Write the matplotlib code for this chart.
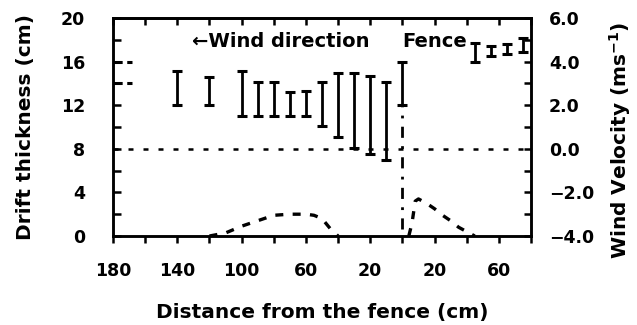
import matplotlib
matplotlib.use("Agg")
import matplotlib.pyplot as plt
import numpy as np

plt.rcParams['font.family'] = ['DejaVu Sans']
plt.rcParams['font.weight'] = 'bold'
plt.rcParams['mathtext.default'] = 'regular'

# Drift thickness ranges (cm); negative distance = windward side of the fence
x_windward = [-140, -120, -100, -90, -80, -70, -60, -50, -40, -30, -20, -10, 0]
drift_low_w = [12, 12, 11, 11, 11, 11, 11, 10.1, 9.1, 8.1, 7.5, 7.0, 12]
drift_high_w = [15.1, 14.6, 15.1, 14.1, 14.1, 13.2, 13.3, 14.1, 15.0, 15.0, 14.7, 14.1, 16]

x_leeward = [45, 55, 65, 75]
drift_low_l = [16.0, 16.5, 16.7, 16.9]
drift_high_l = [17.7, 17.4, 17.6, 18.2]

# Short marks on the far-left edge
edge_marks = [16, 14]

# Wind velocity profiles (m/s)
vel_x_w = [-120, -110, -100, -90, -80, -70, -60, -55, -50, -45, -40]
vel_w = [-4.0, -3.86, -3.55, -3.3, -3.05, -3.0, -3.0, -3.05, -3.2, -3.65, -4.0]
vel_x_l = [4, 6, 8, 10, 15, 20, 25, 30, 35, 40, 45]
vel_l = [-4.0, -3.4, -2.4, -2.3, -2.5, -2.75, -3.05, -3.3, -3.6, -3.8, -4.0]

x_ticks = [-180, -140, -100, -60, -20, 20, 60]
x_ticklabels = ['180', '140', '100', '60', '20', '20', '60']
y_ticks = [0, 4, 8, 12, 16, 20]
v_ticks = [-4.0, -2.0, 0.0, 2.0, 4.0, 6.0]

fig = plt.figure(figsize=(6.37, 3.25), dpi=100)
ax = fig.add_axes([113/637, 1-236/325, (531-113)/637, (236-18)/325])
ax.set_xlim(-180, 80)
ax.set_ylim(0, 20)

lw = 2.0
def draw_bars(xs, lo, hi):
    lo = np.array(lo); hi = np.array(hi)
    ax.errorbar(xs, lo, yerr=[np.zeros_like(lo), hi - lo], fmt='none',
                ecolor='black', elinewidth=lw, capsize=3.8, capthick=2.2)

draw_bars(x_windward, drift_low_w, drift_high_w)
draw_bars(x_leeward, drift_low_l, drift_high_l)

ax.hlines(edge_marks, -180, -168, colors='black', linewidth=2.2,
          linestyles=(0, (3, 1.5)))

# zero-velocity reference line
ax.axhline(8, color='black', linewidth=1.8, linestyle=(0, (2.0, 4.0)))
# fence position
ax.vlines(0, 0.6, 12, colors='black', linewidth=2.0,
          linestyles=(0, (4, 3, 1.0, 3)))

ax2 = ax.twinx()
ax2.set_ylim(-4, 6)
ax2.plot(vel_x_w, vel_w, color='black', linewidth=2.4, linestyle=(0, (2.4, 2.8)))
ax2.plot(vel_x_l, vel_l, color='black', linewidth=2.4, linestyle=(0, (2.4, 2.8)))

for a in (ax, ax2):
    for s in a.spines.values():
        s.set_linewidth(1.8)

ax.set_xticks(x_ticks)
ax.set_xticklabels(x_ticklabels)
ax.set_xticks(np.arange(-180, 81, 20), minor=True)
ax.tick_params(axis='x', which='both', direction='out', length=5, width=1.8,
               labelsize=12.5, pad=14)
ax.set_yticks(y_ticks)
ax.set_yticks(np.arange(0, 21, 2), minor=True)
ax.tick_params(axis='y', which='both', direction='in', length=6, width=1.8,
               labelsize=12.5, pad=20)

secx = ax.secondary_xaxis('top')
secx.set_xticks(np.arange(-180, 81, 20))
secx.tick_params(direction='in', length=5, width=1.8, labeltop=False)
secx.spines['top'].set_linewidth(1.8)

ax2.set_yticks(v_ticks)
ax2.set_yticklabels([f'{v:.1f}'.replace('-', '−') for v in v_ticks])
ax2.set_yticks(np.arange(-4, 6.1, 1), minor=True)
ax2.tick_params(axis='y', which='both', direction='in', length=5, width=1.8,
                labelsize=12.5, pad=13)

ax.set_xlabel('Distance from the fence (cm)', fontsize=14.5, fontweight='bold', labelpad=16)
ax.set_ylabel('Drift thickness (cm)', fontsize=14.5, fontweight='bold')
ax.yaxis.set_label_coords(-0.187, 0.5)
ax2.set_ylabel('Wind Velocity (ms$^{-1}$)', fontsize=14.5, fontweight='bold')
ax2.yaxis.set_label_coords(1.182, 0.44)

ax.text(-131, 17.8, '←Wind direction', fontsize=14, fontweight='bold',
        va='center', ha='left')
ax.text(0, 17.8, 'Fence', fontsize=14, fontweight='bold', va='center', ha='left')

fig.savefig('out.png', dpi=100)
